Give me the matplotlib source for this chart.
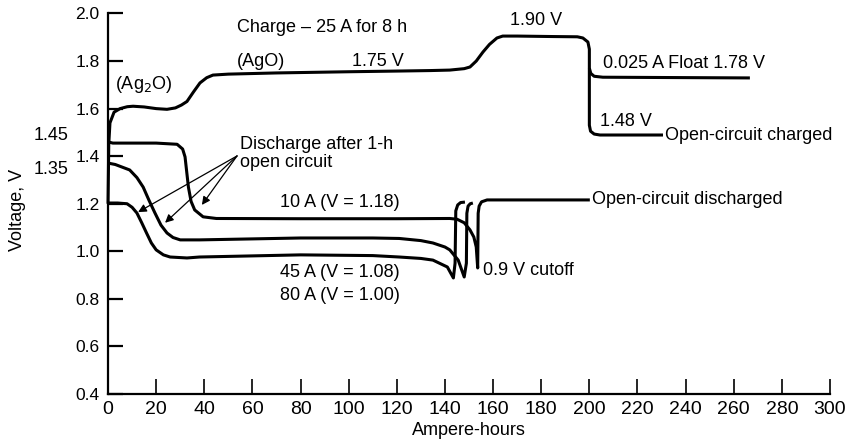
import matplotlib
matplotlib.use('Agg')
import matplotlib.pyplot as plt

plt.rcParams['font.family'] = ['Liberation Sans', 'DejaVu Sans']

# Charge curve, 25 A for 8 h (Ah, V)
charge_ah = [0, 0.3, 0.8, 2.5, 5, 8, 10.4, 15, 20, 24.5, 28, 30.5, 32.8, 35.5, 38.2,
             41, 43.6, 50, 70, 100, 121, 134, 142, 148, 150.4, 153, 155.8, 158.5,
             161.6, 164, 170, 185, 195, 197.3, 199.4, 200, 200, 200.5, 202, 204.4, 230.6]
charge_v = [1.2, 1.45, 1.54, 1.585, 1.6, 1.608, 1.61, 1.607, 1.6, 1.597, 1.603, 1.615,
            1.63, 1.67, 1.708, 1.73, 1.741, 1.745, 1.75, 1.755, 1.758, 1.76, 1.762,
            1.768, 1.775, 1.80, 1.838, 1.87, 1.897, 1.905, 1.905, 1.903, 1.902, 1.897,
            1.88, 1.85, 1.53, 1.505, 1.493, 1.489, 1.489]

# float branch after charge
float_ah = [200, 200.6, 202, 205.6, 266.7]
float_v = [1.77, 1.748, 1.736, 1.732, 1.729]

# Discharge curves (incl. recovery hook)
d10_ah = [0, 2, 10, 20, 28.7, 31, 32, 33.4, 34.5, 36, 39.5, 45, 80, 120, 142, 145,
          148, 150.4, 152, 153, 153.6, 153.8, 154.2, 155.2, 157.5, 200.2]
d10_v = [1.46, 1.455, 1.455, 1.455, 1.45, 1.43, 1.397, 1.27, 1.21, 1.174, 1.145, 1.138,
         1.137, 1.137, 1.138, 1.135, 1.12, 1.09, 1.06, 1.018, 0.93, 1.16, 1.19, 1.208,
         1.216, 1.216]

d45_ah = [0, 3, 9, 12, 14.6, 17, 19.5, 22, 24.5, 27, 30, 38, 80, 110, 121, 130, 135,
          140, 142, 145.5, 148, 148.9, 149.1, 149.6, 150.5, 151.6]
d45_v = [1.371, 1.365, 1.342, 1.31, 1.27, 1.215, 1.161, 1.11, 1.077, 1.058, 1.048, 1.048,
         1.056, 1.056, 1.054, 1.045, 1.035, 1.018, 1.006, 0.963, 0.892, 0.95, 1.16, 1.19,
         1.2, 1.203]

d80_ah = [0, 4, 7.9, 10, 12, 14, 16, 18, 20, 23, 25.8, 32.8, 38, 80, 110, 121, 130, 135,
          141, 143.5, 144.2, 144.5, 145.3, 146.5, 148.3]
d80_v = [1.203, 1.203, 1.2, 1.185, 1.161, 1.12, 1.077, 1.035, 1.006, 0.985, 0.976, 0.972,
         0.976, 0.985, 0.982, 0.976, 0.97, 0.963, 0.934, 0.888, 0.95, 1.17, 1.195, 1.205,
         1.207]

xticks = list(range(0, 301, 20))
yticks = [0.4, 0.6, 0.8, 1.0, 1.2, 1.4, 1.6, 1.8, 2.0]

fig = plt.figure(figsize=(8.52, 4.42), dpi=100)
ax = fig.add_axes([0.1268, 0.1086, 0.8474, 0.8609])

lw = 2.2
for xs, ys in [(charge_ah, charge_v), (float_ah, float_v), (d10_ah, d10_v),
               (d45_ah, d45_v), (d80_ah, d80_v)]:
    ax.plot(xs, ys, color='black', lw=lw, solid_joinstyle='round',
            solid_capstyle='butt', clip_on=False)

ax.set_xlim(0, 300)
ax.set_ylim(0.4, 2.0)
ax.set_xticks(xticks)
ax.set_yticks(yticks)
ax.set_yticklabels(['%.1f' % v for v in yticks])
for s in ['top', 'right']:
    ax.spines[s].set_visible(False)
for s in ['left', 'bottom']:
    ax.spines[s].set_linewidth(1.6)
ax.tick_params(axis='y', direction='in', length=11, width=1.6, pad=6, labelsize=12.5)
ax.tick_params(axis='x', direction='in', length=11, width=1.2, pad=5, labelsize=14)

fs = 13
ax.set_ylabel('Voltage, V', fontsize=fs)
ax.yaxis.set_label_coords(-0.113, 0.484)
ax.set_xlabel('Ampere-hours', fontsize=fs, labelpad=3)

t = dict(fontsize=fs, ha='left', va='center')
ax.text(53.6, 1.939, 'Charge \u2013 25 A for 8 h', **t)
ax.text(53.6, 1.796, '(AgO)', **t)
ax.text(101.4, 1.796, '1.75 V', **t)
ax.text(167, 1.97, '1.90 V', **t)
ax.text(205.6, 1.788, '0.025 A Float 1.78 V', **t)
ax.text(204.4, 1.544, '1.48 V', **t)
ax.text(231.4, 1.489, 'Open-circuit charged', **t)
ax.text(201, 1.216, 'Open-circuit discharged', **t)
ax.text(71.5, 1.207, '10 A (V = 1.18)', **t)
ax.text(71.5, 0.909, '45 A (V = 1.08)', **t)
ax.text(71.5, 0.816, '80 A (V = 1.00)', **t)
ax.text(155.8, 0.921, '0.9 V cutoff', **t)
ax.text(2.9, 1.70, '(Ag$_2$O)', **t)
ax.text(54.8, 1.41, 'Discharge after 1-h\nopen circuit', fontsize=fs, ha='left',
        va='center', linespacing=1.05)

yt = ax.get_yaxis_transform()
ax.text(-0.055, 1.486, '1.45', transform=yt, fontsize=fs, ha='right', va='center')
ax.text(-0.055, 1.345, '1.35', transform=yt, fontsize=fs, ha='right', va='center')

src = (53.6, 1.401)
for tgt in [(12.5, 1.165), (23.7, 1.12), (39, 1.195)]:
    ax.annotate('', xy=tgt, xytext=src,
                arrowprops=dict(arrowstyle='-|>', color='black', lw=0.9,
                                mutation_scale=12, shrinkA=0, shrinkB=0))

fig.savefig('out.png', dpi=100)
